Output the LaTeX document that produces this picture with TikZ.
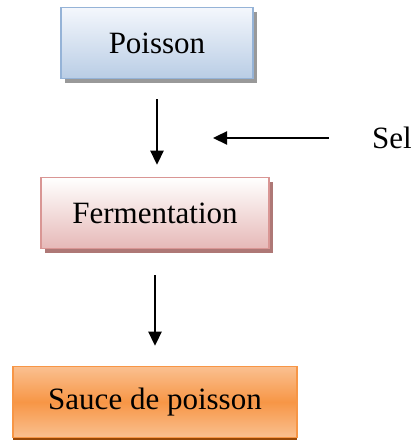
\documentclass[tikz,border=0pt]{standalone}
\usepackage{fontspec}
\setmainfont{Liberation Serif}
\usetikzlibrary{arrows.meta,shadows,calc}
\definecolor{bluetop}{HTML}{F4F7FC}
\definecolor{bluebot}{HTML}{B9CDE5}
\definecolor{blueline}{HTML}{95B3D7}
\definecolor{pinktop}{HTML}{FFFFFF}
\definecolor{pinkbot}{HTML}{E6B9B8}
\definecolor{pinkline}{HTML}{D99694}
\definecolor{orangelight}{HTML}{FAC090}
\definecolor{orangemid}{HTML}{F79646}
\definecolor{orangedark}{HTML}{984807}
\tikzset{
	stage/.style={rectangle, line width=1.5pt, font=\fontsize{31}{37}\selectfont, minimum height=71pt},
	bluebox/.style={stage, draw=blueline, top color=bluetop, bottom color=bluebot, drop shadow={shadow xshift=4pt, shadow yshift=-5pt, fill=black!40, opacity=1}},
	pinkbox/.style={stage, draw=pinkline, top color=pinktop, bottom color=pinkbot, drop shadow={shadow xshift=4pt, shadow yshift=-5pt, fill=pinkline!80!black, opacity=1}},
	orangebox/.style={stage, draw=orangemid, top color=orangelight, bottom color=orangelight, middle color=orangemid, drop shadow={shadow xshift=0pt, shadow yshift=-3pt, fill=orangedark, opacity=1}},
	flow/.style={line width=2.3pt, -{Triangle[length=14pt,width=13pt]}}
}

\begin{document}
\begin{tikzpicture}[x=1pt,y=1pt]
		%%%%% START %%%%%
		
		\useasboundingbox (0, 0) rectangle (415, 441);
		
		\node[bluebox, minimum width=192pt] (poisson) at (157, 398) {Poisson};
		\node[pinkbox, minimum width=228pt] (ferm) at (155, 228) {Fermentation};
		\node[orangebox, minimum width=284pt] (sauce) at (155, 39) {Sauce de poisson};
		
		\node[font=\fontsize{31}{37}\selectfont] (sel) at (392, 303) {Sel};
		\coordinate (selend) at (213, 303);
		
		\draw[flow, shorten <=20pt, shorten >=12pt] (poisson.south) -- (poisson.south |- ferm.north);
		\draw[flow, shorten <=26pt, shorten >=20pt] (ferm.south) -- (ferm.south |- sauce.north);
		\draw[flow, shorten <=40pt] (sel.west) -- (selend);
		
		%%%%% END %%%%%
	\end{tikzpicture}
\end{document}
